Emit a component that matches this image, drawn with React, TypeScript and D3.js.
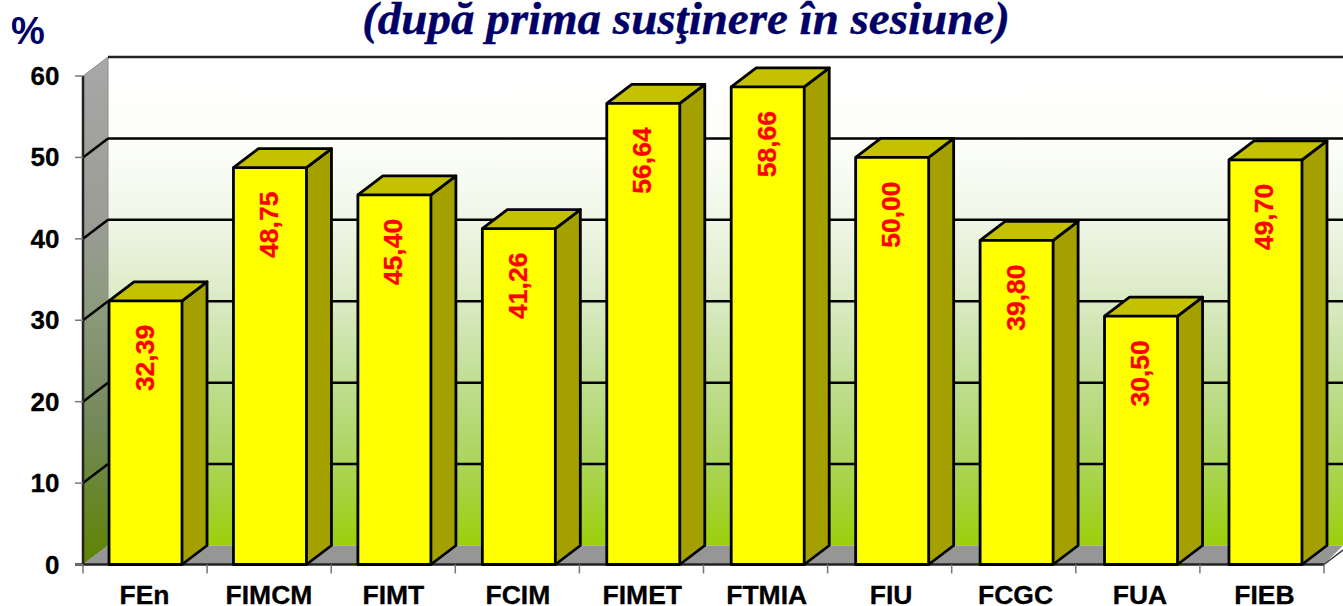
import React from "react";
import * as d3 from "d3";

const categories = ["FEn", "FIMCM", "FIMT", "FCIM", "FIMET", "FTMIA", "FIU", "FCGC", "FUA", "FIEB"];
const values = [32.39, 48.75, 45.4, 41.26, 56.64, 58.66, 50.0, 39.8, 30.5, 49.7];
const valueLabels = ["32,39", "48,75", "45,40", "41,26", "56,64", "58,66", "50,00", "39,80", "30,50", "49,70"];
const yTicks = [0, 10, 20, 30, 40, 50, 60];
const titleText = "(după prima susţinere în sesiune)";
const unitText = "%";

const W = 1343, H = 606;
const DX = 25, DY = -19;
const y = d3.scaleLinear().domain([0, 60]).range([564.5, 76]);
const xBars = d3.scaleBand<string>().domain(categories).range([83.3, 1327.7]);
const xTicks = d3.scaleLinear().domain([0, categories.length]).range([83, 1324]);
const BAR_W = 73;
const SANS = "'Liberation Sans', Arial, sans-serif";
const line = d3.line();

export default function App() {
  const x0 = 83, x1 = xTicks(categories.length);
  const y0 = y(0), yTop = y(60);
  return (
    <svg width={W} height={H} style={{ position: "absolute", left: 0, top: 0, background: "#fff" }}>
      <defs>
        <linearGradient id="back" x1="0" y1="0" x2="0" y2="1">
          <stop offset="0" stopColor="#ffffff" />
          <stop offset="0.17" stopColor="#fdfefb" />
          <stop offset="0.33" stopColor="#f0f6e7" />
          <stop offset="0.5" stopColor="#daeac4" />
          <stop offset="0.67" stopColor="#bfdd90" />
          <stop offset="0.83" stopColor="#abd55a" />
          <stop offset="1" stopColor="#9ccf0a" />
        </linearGradient>
        <linearGradient id="side" x1="0" y1="0" x2="0" y2="1">
          <stop offset="0" stopColor="#a8a8a8" />
          <stop offset="0.34" stopColor="#9a9c94" />
          <stop offset="0.5" stopColor="#8b9a7c" />
          <stop offset="0.72" stopColor="#74895a" />
          <stop offset="0.86" stopColor="#68862f" />
          <stop offset="1" stopColor="#5f8500" />
        </linearGradient>
      </defs>

      <rect x={x0 + DX} y={yTop + DY} width={W - x0 - DX} height={y0 - yTop} fill="url(#back)" />
      <path d={line([[x0, yTop], [x0 + DX, yTop + DY], [x0 + DX, y0 + DY], [x0, y0]])!} fill="url(#side)" stroke="#8c8c8c" strokeWidth={1} />
      <path d={line([[x0, y0], [x0 + DX, y0 + DY], [W, y0 + DY], [W, y0 + DY], [x1, y0]])!} fill="#969696" />

      {yTicks.filter((t) => t > 0).map((t) => (
        <g key={t}>
          <line x1={x0 + DX} x2={W} y1={y(t) + DY} y2={y(t) + DY} stroke={t === 60 ? "#222" : "#000"} strokeWidth={2.5} />
          {t < 60 && <line x1={x0} x2={x0 + DX} y1={y(t)} y2={y(t) + DY} stroke="#000" strokeWidth={2.5} />}
        </g>
      ))}

      <line x1={x1} y1={y0} x2={W} y2={y0 - (W - x1) * (19 / 25)} stroke="#333" strokeWidth={1.5} />
      <line x1={x0} x2={x0} y1={yTop} y2={y0} stroke="#222" strokeWidth={2.5} />
      <line x1={x0 - 8} x2={x1} y1={y0} y2={y0} stroke="#222" strokeWidth={2.5} />

      {yTicks.map((t) => (
        <g key={t}>
          <line x1={x0 - 8} x2={x0} y1={y(t)} y2={y(t)} stroke="#777" strokeWidth={1.5} />
          <text x={59.5} y={y(t) + 9} textAnchor="end" fontFamily={SANS} fontWeight="bold" fontSize={26} fill="#000" stroke="#000" strokeWidth={0.3}>{t}</text>
        </g>
      ))}
      {d3.range(categories.length + 1).map((i) => (
        <line key={i} x1={xTicks(i)} x2={xTicks(i)} y1={y0} y2={y0 + 9} stroke="#777" strokeWidth={1.5} />
      ))}

      {categories.map((c, i) => {
        const cx = xBars(c)! + xBars.bandwidth() / 2;
        const l = cx - BAR_W / 2, r = cx + BAR_W / 2;
        const top = y(values[i]);
        return (
          <g key={c} stroke="#000" strokeWidth={2.8} strokeLinejoin="round">
            <path d={line([[r, top], [r + DX, top + DY], [r + DX, y0 + DY], [r, y0]])!} fill="#a3a000" />
            <path d={line([[l, top], [l + DX, top + DY], [r + DX, top + DY], [r, top]])!} fill="#c4c200" />
            <rect x={l} y={top} width={BAR_W} height={y0 - top} fill="#ffff00" />
            <text transform={`translate(${cx + 8},${top + 24}) rotate(-90)`} textAnchor="end" fontFamily={SANS} fontWeight="bold" fontSize={26.5} fill="#ff0000" stroke="#ff0000" strokeWidth={0.3}>{valueLabels[i]}</text>
            <text x={cx - 1} y={604} textAnchor="middle" fontFamily={SANS} fontWeight="bold" fontSize={26.5} fill="#000" stroke="#000" strokeWidth={0.3}>{c}</text>
          </g>
        );
      })}

      <text x={686} y={34} textAnchor="middle" fontFamily="'Liberation Serif', 'Times New Roman', serif" fontWeight="bold" fontStyle="italic" fontSize={47} fill="#000066" stroke="#000066" strokeWidth={0.4}>{titleText}</text>
      <text x={28} y={44} textAnchor="middle" fontFamily={SANS} fontWeight="bold" fontSize={38} fill="#000066">{unitText}</text>
    </svg>
  );
}
